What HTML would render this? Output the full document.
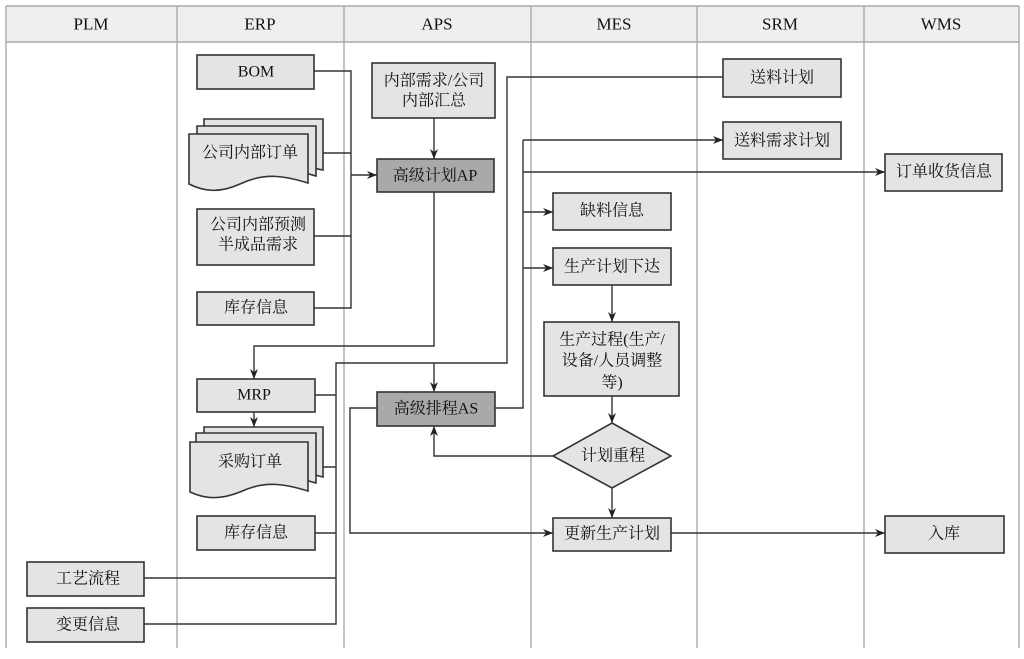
<!DOCTYPE html>
<html><head><meta charset="utf-8"><style>
html,body{margin:0;padding:0;background:#fff;}
svg{display:block;}
text{font-family:"Liberation Serif","Noto Serif CJK SC","Noto Sans CJK SC",serif;font-size:16px;fill:#111;text-anchor:middle;dominant-baseline:central;}
.h{font-size:17px;}
.b{fill:#e4e4e4;stroke:#333;stroke-width:1.6;}
.d{fill:#a9a9a9;stroke:#333;stroke-width:1.6;}
.l{fill:none;stroke:#333;stroke-width:1.4;}
.g{stroke:#aaa;stroke-width:1.4;fill:none;}
</style></head><body>
<svg width="1024" height="659" viewBox="0 0 1024 659" xmlns="http://www.w3.org/2000/svg">
<defs><marker id="a" viewBox="0 0 10 8" refX="10" refY="4" markerWidth="10" markerHeight="8" markerUnits="userSpaceOnUse" orient="auto"><path d="M0,0 L10,4 L0,8 L3,4 z" fill="#222"/></marker></defs>
<rect x="6" y="6" width="1013" height="36" fill="#efefef"/>
<path class="g" d="M6,6 H1019 M6,42 H1019 M6,6 V648 M177,6 V648 M344,6 V648 M531,6 V648 M697,6 V648 M864,6 V648 M1019,6 V648"/>
<text class="h" x="91" y="24">PLM</text><text class="h" x="260" y="24">ERP</text><text class="h" x="437" y="24">APS</text>
<text class="h" x="614" y="24">MES</text><text class="h" x="780" y="24">SRM</text><text class="h" x="941" y="24">WMS</text>

<!-- connectors -->
<path class="l" d="M314,71 H351 V308 H314 M308,153 H351 M314,236 H351"/>
<path class="l" d="M351,175 H377" marker-end="url(#a)"/>
<path class="l" d="M434,118 V159" marker-end="url(#a)"/>
<path class="l" d="M434,192 V346 H254 V379" marker-end="url(#a)"/>
<path class="l" d="M723,77 H507 V363 H336 V624 H144 M315,395 H336 M316,467 H336 M315,533 H336 M144,578 H336"/>
<path class="l" d="M434,363 V392" marker-end="url(#a)"/>
<path class="l" d="M495,408 H523 V140"/>
<path class="l" d="M523,140 H723" marker-end="url(#a)"/>
<path class="l" d="M523,172 H885" marker-end="url(#a)"/>
<path class="l" d="M523,212 H553" marker-end="url(#a)"/>
<path class="l" d="M523,268 H553" marker-end="url(#a)"/>
<path class="l" d="M377,408 H350 V533 H553" marker-end="url(#a)"/>
<path class="l" d="M612,285 V322" marker-end="url(#a)"/>
<path class="l" d="M612,396 V423" marker-end="url(#a)"/>
<path class="l" d="M612,488 V518" marker-end="url(#a)"/>
<path class="l" d="M553,456 H434 V426" marker-end="url(#a)"/>
<path class="l" d="M671,533 H885" marker-end="url(#a)"/>
<path class="l" d="M254,412 V427" marker-end="url(#a)"/>

<!-- ERP -->
<rect class="b" x="197" y="55" width="117" height="34"/><text x="256" y="72">BOM</text>
<path class="b" d="M204,119 H323 V170 C300,166 290,158 270,165 L204,165 Z"/>
<path class="b" d="M197,126 H316 V176 C300,172 290,165 270,170 L197,170 Z"/>
<path class="b" d="M189,134 H308 V183 C285,176 265,172 240,184 C220,193 205,192 189,184 Z"/>
<text x="250" y="153">公司内部订单</text>
<rect class="b" x="197" y="209" width="117" height="56"/><text x="258" y="225">公司内部预测</text><text x="258" y="245">半成品需求</text>
<rect class="b" x="197" y="292" width="117" height="33"/><text x="256" y="308">库存信息</text>
<rect class="b" x="197" y="379" width="118" height="33"/><text x="254" y="395">MRP</text>
<path class="b" d="M204,427 H323 V477 C305,473 295,465 275,472 L204,472 Z"/>
<path class="b" d="M196,433 H316 V483 C300,479 290,472 270,477 L196,477 Z"/>
<path class="b" d="M190,442 H308 V491 C285,484 265,480 240,492 C220,500 205,499 190,492 Z"/>
<text x="250" y="462">采购订单</text>
<rect class="b" x="197" y="516" width="118" height="34"/><text x="256" y="533">库存信息</text>
<!-- PLM -->
<rect class="b" x="27" y="562" width="117" height="34"/><text x="88" y="579">工艺流程</text>
<rect class="b" x="27" y="608" width="117" height="34"/><text x="88" y="625">变更信息</text>
<!-- APS -->
<rect class="b" x="372" y="63" width="123" height="55"/><text x="434" y="81">内部需求/公司</text><text x="434" y="101">内部汇总</text>
<rect class="d" x="377" y="159" width="117" height="33"/><text x="435" y="176">高级计划AP</text>
<rect class="d" x="377" y="392" width="118" height="34"/><text x="436" y="409">高级排程AS</text>
<!-- MES -->
<rect class="b" x="553" y="193" width="118" height="37"/><text x="612" y="211">缺料信息</text>
<rect class="b" x="553" y="248" width="118" height="37"/><text x="612" y="267">生产计划下达</text>
<rect class="b" x="544" y="322" width="135" height="74"/><text x="612" y="340">生产过程(生产/</text><text x="612" y="361">设备/人员调整</text><text x="612" y="383">等)</text>
<path class="b" d="M612,423 L671,456 L612,488 L553,456 Z"/><text x="613" y="456">计划重程</text>
<rect class="b" x="553" y="518" width="118" height="33"/><text x="612" y="534">更新生产计划</text>
<!-- SRM -->
<rect class="b" x="723" y="59" width="118" height="38"/><text x="782" y="78">送料计划</text>
<rect class="b" x="723" y="122" width="118" height="37"/><text x="782" y="141">送料需求计划</text>
<!-- WMS -->
<rect class="b" x="885" y="154" width="117" height="37"/><text x="944" y="172">订单收货信息</text>
<rect class="b" x="885" y="516" width="119" height="37"/><text x="944" y="534">入库</text>
</svg>
</body></html>
